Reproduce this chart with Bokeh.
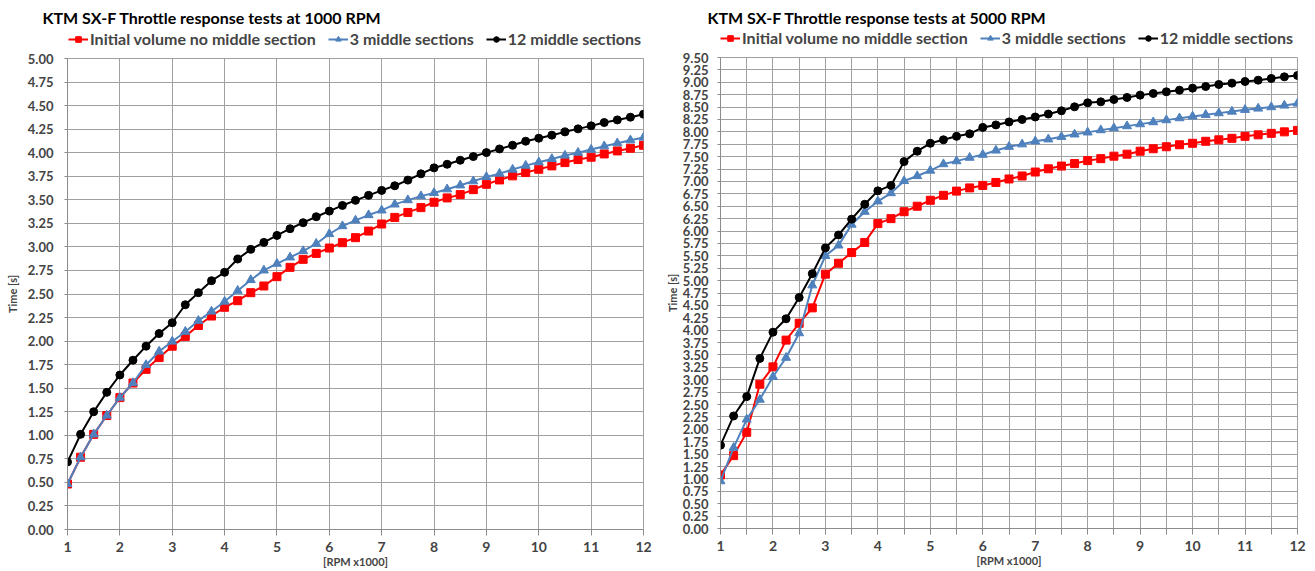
from bokeh.plotting import figure
from bokeh.models import FixedTicker, PrintfTickFormatter, Legend, LegendItem, Range1d, Label
from bokeh.layouts import row, column
from bokeh.embed import file_html
from bokeh.resources import INLINE

# ---------------- data ----------------
rpm = [1.0, 1.25, 1.5, 1.75, 2.0, 2.25, 2.5, 2.75, 3.0, 3.25, 3.5, 3.75,
       4.0, 4.25, 4.5, 4.75, 5.0, 5.25, 5.5, 5.75, 6.0, 6.25, 6.5, 6.75,
       7.0, 7.25, 7.5, 7.75, 8.0, 8.25, 8.5, 8.75, 9.0, 9.25, 9.5, 9.75,
       10.0, 10.25, 10.5, 10.75, 11.0, 11.25, 11.5, 11.75, 12.0]

series_names = ["Initial volume no middle section", "3 middle sections", "12 middle sections"]

# 1000 RPM test
t1000_initial = [0.483, 0.767, 1.01, 1.21, 1.40, 1.555, 1.70, 1.825, 1.946, 2.05, 2.166, 2.266,
                 2.359, 2.429, 2.514, 2.585, 2.684, 2.783, 2.868, 2.931, 2.988, 3.045, 3.098, 3.168,
                 3.243, 3.313, 3.366, 3.417, 3.474, 3.52, 3.555, 3.608, 3.665, 3.711, 3.754, 3.789,
                 3.824, 3.86, 3.895, 3.927, 3.952, 3.987, 4.019, 4.047, 4.079]
t1000_3sec = [0.483, 0.767, 1.01, 1.21, 1.40, 1.555, 1.747, 1.89, 1.996, 2.10, 2.216, 2.315,
              2.42, 2.535, 2.649, 2.751, 2.822, 2.889, 2.956, 3.034, 3.137, 3.221, 3.281, 3.338,
              3.388, 3.451, 3.497, 3.539, 3.573, 3.612, 3.654, 3.697, 3.743, 3.778, 3.821, 3.863,
              3.899, 3.934, 3.97, 4.001, 4.033, 4.069, 4.101, 4.132, 4.161]
t1000_12sec = [0.717, 1.01, 1.25, 1.456, 1.64, 1.797, 1.946, 2.08, 2.195, 2.386, 2.514, 2.641,
               2.73, 2.871, 2.974, 3.048, 3.122, 3.193, 3.257, 3.32, 3.38, 3.44, 3.494, 3.547,
               3.60, 3.649, 3.709, 3.776, 3.839, 3.877, 3.92, 3.959, 4.001, 4.04, 4.079, 4.122,
               4.154, 4.186, 4.221, 4.253, 4.285, 4.32, 4.348, 4.377, 4.409]

# 5000 RPM test
t5000_initial = [1.08, 1.47, 1.94, 2.91, 3.26, 3.80, 4.14, 4.45, 5.13, 5.35, 5.565, 5.77,
                 6.15, 6.25, 6.39, 6.50, 6.62, 6.72, 6.805, 6.87, 6.92, 6.98, 7.05, 7.11,
                 7.19, 7.255, 7.31, 7.36, 7.42, 7.46, 7.51, 7.55, 7.61, 7.66, 7.70, 7.74,
                 7.77, 7.81, 7.84, 7.87, 7.91, 7.94, 7.97, 8.00, 8.03]
t5000_3sec = [0.955, 1.63, 2.20, 2.60, 3.06, 3.445, 3.94, 4.906, 5.50, 5.71, 6.13, 6.39,
              6.60, 6.765, 7.01, 7.11, 7.22, 7.35, 7.41, 7.48, 7.54, 7.625, 7.70, 7.75,
              7.81, 7.85, 7.90, 7.95, 7.99, 8.035, 8.075, 8.116, 8.156, 8.196, 8.237, 8.277,
              8.311, 8.344, 8.378, 8.41, 8.445, 8.472, 8.50, 8.532, 8.573]
t5000_12sec = [1.68, 2.27, 2.66, 3.43, 3.96, 4.23, 4.66, 5.14, 5.66, 5.92, 6.24, 6.54,
               6.81, 6.92, 7.40, 7.61, 7.77, 7.84, 7.91, 7.96, 8.09, 8.14, 8.20, 8.25,
               8.30, 8.36, 8.425, 8.505, 8.586, 8.606, 8.653, 8.694, 8.741, 8.774, 8.808, 8.841,
               8.882, 8.915, 8.956, 8.983, 9.016, 9.043, 9.077, 9.11, 9.137]

x_ticks = [1, 2, 3, 4, 5, 6, 7, 8, 9, 10, 11, 12]
x_half_ticks = [1.5, 2.5, 3.5, 4.5, 5.5, 6.5, 7.5, 8.5, 9.5, 10.5, 11.5]
y_ticks_1000 = [0.0, 0.25, 0.5, 0.75, 1.0, 1.25, 1.5, 1.75, 2.0, 2.25, 2.5, 2.75,
                3.0, 3.25, 3.5, 3.75, 4.0, 4.25, 4.5, 4.75, 5.0]
y_ticks_5000 = [0.0, 0.25, 0.5, 0.75, 1.0, 1.25, 1.5, 1.75, 2.0, 2.25, 2.5, 2.75,
                3.0, 3.25, 3.5, 3.75, 4.0, 4.25, 4.5, 4.75, 5.0, 5.25, 5.5, 5.75,
                6.0, 6.25, 6.5, 6.75, 7.0, 7.25, 7.5, 7.75, 8.0, 8.25, 8.5, 8.75,
                9.0, 9.25, 9.5]

title_1000 = "KTM SX-F Throttle response tests at 1000 RPM"
title_5000 = "KTM SX-F Throttle response tests at 5000 RPM"
x_label = "[RPM x1000]"
y_label = "Time [s]"

# ---------------- style ----------------
FONT = "Lato"
RED = "#ff0000"
BLUE = "#4f81bd"
BLACK = "#000000"
GRID = "#a0a0a0"
AXIS = "#8c8c8c"
SPECS = [(RED, "square", 8), (BLUE, "triangle", 9), (BLACK, "circle", 8)]


def make_header(title_text, ys, width, height, title_x, legend_x):
    # header strip: the series are plotted outside its (empty) view range,
    # so only the title and the legend keys appear here
    h = figure(width=width, height=height, output_backend="svg", toolbar_location=None,
               x_range=Range1d(-20, -10), y_range=Range1d(-20, -10),
               x_axis_location=None, y_axis_location=None, title_location=None,
               min_border=0, min_border_left=0, min_border_right=0,
               min_border_top=0, min_border_bottom=0, frame_align=False,
               outline_line_color=None, background_fill_color="white",
               border_fill_color="white")
    h.grid.visible = False
    h.add_layout(Label(x=title_x, y=height - 17, x_units="screen", y_units="screen",
                       text=title_text, text_font=FONT, text_font_size="16px",
                       text_font_style="bold", text_baseline="middle", text_color="black"))
    items = []
    for name, y, (col, mk, sz) in zip(series_names, ys, SPECS):
        ln = h.line(rpm, y, line_color=col, line_width=2)
        sc = h.scatter(rpm, y, marker=mk, size=sz, fill_color=col, line_color=col)
        items.append(LegendItem(label=name, renderers=[ln, sc]))
    legend = Legend(items=items, orientation="horizontal", location=(legend_x, 2),
                    label_text_font=FONT, label_text_font_size="16px",
                    label_text_font_style="bold", glyph_width=20, glyph_height=14,
                    label_height=16, label_standoff=2, spacing=12, padding=0, margin=0,
                    border_line_color=None, background_fill_alpha=0)
    h.add_layout(legend, "center")
    return h


def make_chart(ys, yticks, width, height, b_left, b_right, b_top, b_bottom, half_grid,
               ylab_standoff, ytick_standoff):
    p = figure(width=width, height=height, output_backend="svg", toolbar_location=None,
               x_range=Range1d(1, 12), y_range=Range1d(yticks[0], yticks[-1]),
               title_location=None, frame_align=False,
               min_border_left=b_left, min_border_right=b_right,
               min_border_top=b_top, min_border_bottom=b_bottom,
               background_fill_color="white", border_fill_color="white")
    p.outline_line_color = GRID

    # x axis
    xa = p.xaxis[0]
    xa.ticker = FixedTicker(ticks=x_ticks, minor_ticks=x_half_ticks if half_grid else [])
    xa.axis_label = x_label
    xa.axis_label_text_font = FONT
    xa.axis_label_text_font_size = "11px"
    xa.axis_label_text_font_style = "bold"
    xa.axis_label_standoff = 0
    xa.major_label_text_font = FONT
    xa.major_label_text_font_size = "14px"
    xa.major_label_text_font_style = "bold"
    xa.major_label_standoff = 6
    xa.major_tick_out = 6
    xa.major_tick_in = 0
    xa.minor_tick_out = 6 if half_grid else 0
    xa.minor_tick_in = 0
    xa.axis_line_color = AXIS
    xa.major_tick_line_color = AXIS
    xa.minor_tick_line_color = AXIS

    # y axis
    ya = p.yaxis[0]
    ya.ticker = FixedTicker(ticks=yticks, minor_ticks=[])
    ya.formatter = PrintfTickFormatter(format="%.2f")
    ya.axis_label = y_label
    ya.axis_label_text_font = FONT
    ya.axis_label_text_font_size = "11px"
    ya.axis_label_text_font_style = "bold"
    ya.axis_label_standoff = ylab_standoff
    ya.major_label_text_font = FONT
    ya.major_label_text_font_size = "13px"
    ya.major_label_text_font_style = "bold"
    ya.major_label_standoff = ytick_standoff
    ya.major_tick_out = 3
    ya.major_tick_in = 0
    ya.minor_tick_out = 0
    ya.minor_tick_in = 0
    ya.axis_line_color = AXIS
    ya.major_tick_line_color = AXIS

    # grids
    p.xgrid.grid_line_color = GRID
    p.ygrid.grid_line_color = GRID
    p.xgrid.ticker = FixedTicker(ticks=x_ticks, minor_ticks=x_half_ticks if half_grid else [])
    if half_grid:
        p.xgrid.minor_grid_line_color = GRID
    p.ygrid.ticker = FixedTicker(ticks=yticks)

    for y, (col, mk, sz) in zip(ys, SPECS):
        p.line(rpm, y, line_color=col, line_width=2)
        p.scatter(rpm, y, marker=mk, size=sz, fill_color=col, line_color=col)
    return p


s1000 = [t1000_initial, t1000_3sec, t1000_12sec]
s5000 = [t5000_initial, t5000_3sec, t5000_12sec]

h1 = make_header(title_1000, s1000, 660, 50, 42, 68)
c1 = make_chart(s1000, y_ticks_1000, 660, 521, 67, 17, 8, 42, False, 6, 11)
h2 = make_header(title_5000, s5000, 655, 49, 47, 60)
c2 = make_chart(s5000, y_ticks_5000, 655, 522, 60, 18, 8, 43, True, 1, 9)

layout = row(column(h1, c1, spacing=0), column(h2, c2, spacing=0), spacing=0)
open("out.html", "w").write(file_html(layout, INLINE))
